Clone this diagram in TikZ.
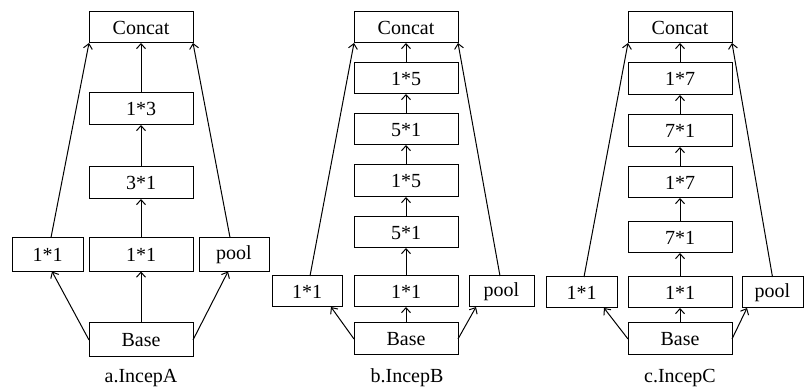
\documentclass[tikz,border=0pt]{standalone}
\usepackage{fontspec}
\setmainfont{Liberation Serif}
\usetikzlibrary{arrows.meta}
\begin{document}
\begin{tikzpicture}[x=1pt,y=-1pt,
  box/.style={draw,line width=1pt,inner sep=0pt,outer sep=0pt,minimum width=104pt,minimum height=32pt,font=\fontsize{20}{23}\selectfont},
  captxt/.style={inner sep=0pt,font=\fontsize{20}{23}\selectfont},
  arr/.style={line width=1pt,-{Straight Barb[length=5pt,width=9pt]}}]
\useasboundingbox (0,0) rectangle (804,387);
% ---------- Panel A ----------
\node[box,minimum height=31pt] (aC) at (141,27.5) {Concat};
\node[box] (a3) at (141,109) {1*3};
\node[box] (a2) at (141,183) {3*1};
\node[box,minimum height=34pt] (a1) at (141,254.5) {1*1};
\node[box,minimum height=34pt,minimum width=71pt] (aL) at (47.5,254.5) {1*1};
\node[box,minimum height=34pt,minimum width=70pt] (aP) at (234,254.5) {pool};
\node[box,minimum height=34pt] (aB) at (141,340) {Base};
\node[captxt] (aT) at (141,378) {a.IncepA};
\draw[arr] (aB) -- (a1);
\draw[arr] (a1) -- (a2);
\draw[arr] (a2) -- (a3);
\draw[arr] (a3) -- (aC);
\draw[arr] (aB.west) -- ([xshift=4.5pt]aL.south);
\draw[arr] (aB.east) -- ([xshift=-6pt]aP.south);
\draw[arr] ([xshift=3.5pt]aL.north) -- (aC.south west);
\draw[arr] ([xshift=-4pt]aP.north) -- (aC.south east);
% ---------- Panel B ----------
\node[box,minimum height=31pt] (bC) at (406,27.5) {Concat};
\node[box,minimum height=31pt] (b5) at (406,78.5) {1*5};
\node[box,minimum height=31pt] (b4) at (406,129.5) {5*1};
\node[box] (b3) at (406,181) {1*5};
\node[box,minimum height=31pt] (b2) at (406,232.5) {5*1};
\node[box,minimum height=31pt] (b1) at (406,291.5) {1*1};
\node[box,minimum height=31pt,minimum width=70pt] (bL) at (307,291.5) {1*1};
\node[box,minimum height=31pt,minimum width=65pt] (bP) at (501.5,291.5) {pool};
\node[box] (bB) at (406,339) {Base};
\node[captxt] (bT) at (407,378) {b.IncepB};
\draw[arr] (bB) -- (b1);
\draw[arr] (b1) -- (b2);
\draw[arr] (b2) -- (b3);
\draw[arr] (b3) -- (b4);
\draw[arr] (b4) -- (b5);
\draw[arr] (b5) -- (bC);
\draw[arr] (bB.west) -- ([xshift=24pt]bL.south);
\draw[arr] (bB.east) -- ([xshift=-25.5pt]bP.south);
\draw[arr] ([xshift=3pt]bL.north) -- (bC.south west);
\draw[arr] ([xshift=-1.5pt]bP.north) -- (bC.south east);
% ---------- Panel C ----------
\node[box,minimum height=31pt] (cC) at (680,27.5) {Concat};
\node[box] (c5) at (680,79) {1*7};
\node[box] (c4) at (680,131) {7*1};
\node[box,minimum height=31pt] (c3) at (680,182.5) {1*7};
\node[box,minimum height=31pt] (c2) at (680,237.5) {7*1};
\node[box,minimum height=31pt] (c1) at (680,292.5) {1*1};
\node[box,minimum height=31pt,minimum width=71pt] (cL) at (581.5,292.5) {1*1};
\node[box,minimum height=31pt,minimum width=61pt] (cP) at (772.5,292.5) {pool};
\node[box] (cB) at (680,339) {Base};
\node[captxt] (cT) at (680,378) {c.IncepC};
\draw[arr] (cB) -- (c1);
\draw[arr] (c1) -- (c2);
\draw[arr] (c2) -- (c3);
\draw[arr] (c3) -- (c4);
\draw[arr] (c4) -- (c5);
\draw[arr] (c5) -- (cC);
\draw[arr] (cB.west) -- ([xshift=22.5pt]cL.south);
\draw[arr] (cB.east) -- ([xshift=-25.5pt]cP.south);
\draw[arr] ([xshift=2.5pt]cL.north) -- (cC.south west);
\draw[arr] (cP.north) -- (cC.south east);
\end{tikzpicture}
\end{document}
